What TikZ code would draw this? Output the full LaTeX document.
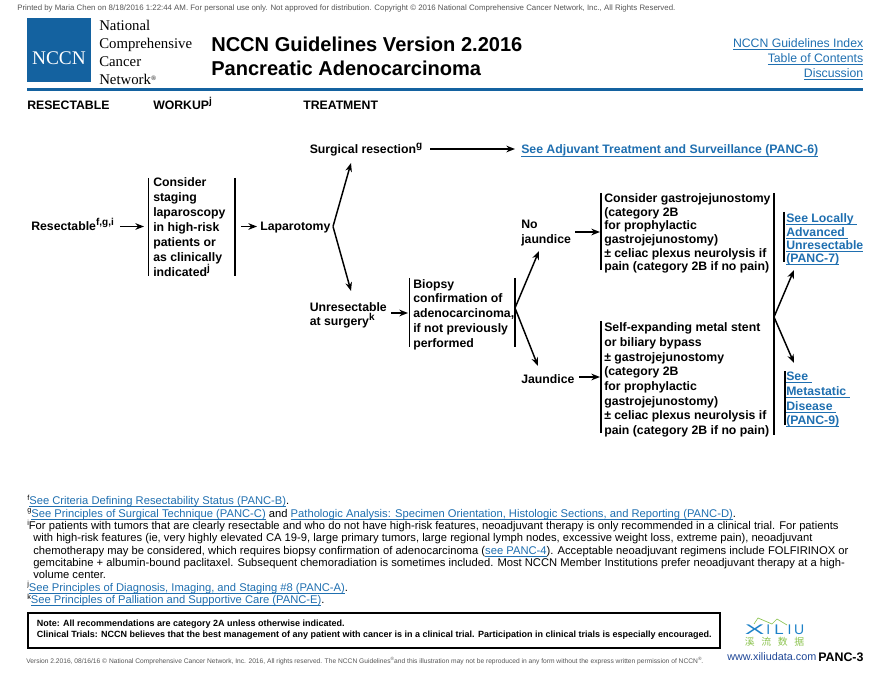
\documentclass[tikz,border=0pt]{standalone}
\usepackage{fontspec}
\setmainfont{Liberation Sans}
\newfontfamily\serifname{Liberation Serif}
\newfontfamily\cjkname{Noto Sans CJK SC}
\usetikzlibrary{arrows.meta}
\definecolor{nccnblue}{RGB}{20,98,160}
\definecolor{linkblue}{RGB}{31,111,176}
\definecolor{greytext}{RGB}{85,85,85}
\definecolor{xiliugreen}{RGB}{140,195,80}
\definecolor{xiliublue}{RGB}{30,130,200}
\definecolor{webblue}{RGB}{30,70,150}
\setlength{\lineskiplimit}{-10pt}
\newcommand{\linktxt}[1]{\textcolor{linkblue}{\underline{\smash{#1}}}}
\newcommand{\supmark}[1]{\raisebox{0.42em}{\fontsize{7.5}{8}\selectfont #1}}
\newcommand{\fnmark}[1]{\raisebox{0.38em}{\fontsize{5.5}{6}\selectfont #1}}
\tikzset{
  bodytext/.style={inner sep=0pt,anchor=base west,font=\bfseries\fontsize{9.2}{11}\selectfont},
  blocktext/.style={inner sep=0pt,anchor=north west,align=left},
  fnote/.style={inner sep=0pt,anchor=north west,align=left,font=\fontsize{8.4}{9.25}\selectfont},
  vbar/.style={black,line width=1.1pt},
  flow/.style={black,line width=1.1pt,-{Stealth[length=6.5pt,width=5pt]}},
}
\begin{document}
\begin{tikzpicture}[x=0.75pt,y=-0.75pt]
  \useasboundingbox (0,0) rectangle (890,688);
  \node[inner sep=0pt,anchor=base west,text=greytext,font=\fontsize{5.9}{7}\selectfont] (printed) at (17,11) {Printed by Maria Chen on 8/18/2016 1:22:44 AM. For personal use only. Not approved for distribution. Copyright © 2016 National Comprehensive Cancer Network, Inc., All Rights Reserved.};
  % header
  \node[fill=nccnblue,minimum size=48pt,inner sep=0pt,anchor=north west] (logo) at (27,18) {};
  \node[inner sep=0pt,anchor=base,text=white,font=\serifname\fontsize{14.5}{15}\selectfont] (logotext) at (59,65) {NCCN};
  \node[blocktext,font=\serifname\fontsize{11.1}{13.5}\selectfont] (nccnname) at (99,20) {National\\Comprehensive\\Cancer\\Network\raisebox{3pt}{\fontsize{5}{5}\selectfont®}};
  \node[blocktext,font=\bfseries\fontsize{15.05}{18}\selectfont] (title) at (211,37) {NCCN Guidelines Version 2.2016\\Pancreatic Adenocarcinoma};
  \node[inner sep=0pt,anchor=north east,align=right,font=\fontsize{9.2}{11.25}\selectfont] (toplinks) at (863.5,47.5) {\linktxt{NCCN Guidelines Index}\\\linktxt{Table of Contents}\\\linktxt{Discussion}};
  \coordinate (ruleL) at (27,89.5);
  \coordinate (ruleR) at (863,89.5);
  \draw[nccnblue,line width=2.2pt] (ruleL) -- (ruleR);
  \node[bodytext] (headA) at (27,110) {RESECTABLE};
  \node[bodytext] (headB) at (153,110) {WORKUP\supmark{j}};
  \node[bodytext] (headC) at (303,110) {TREATMENT};
  % left part
  \node[bodytext] (resect) at (31,231) {Resectable\supmark{f,g,i}};
  \node[blocktext,font=\bfseries\fontsize{9.2}{11.25}\selectfont] (staging) at (153,177.5) {Consider\\staging\\laparoscopy\\in high-risk\\patients or\\as clinically\\indicated\supmark{j}};
  \coordinate (stagingTL) at (148.5,178);
  \coordinate (stagingBL) at (148.5,276);
  \coordinate (stagingTR) at (235,178);
  \coordinate (stagingBR) at (235,276);
  \draw[vbar] (stagingTL) -- (stagingBL);
  \draw[vbar] (stagingTR) -- (stagingBR);
  \coordinate (outResect) at (120,226.5);
  \coordinate (toStaging) at (144,226.5);
  \coordinate (fromStaging) at (241,226.5);
  \coordinate (toLapar) at (257,226.5);
  \node[bodytext] (lapar) at (260,231) {Laparotomy};
  \coordinate (lapFork) at (333,226.5);
  \coordinate (lapUp) at (351,163);
  \coordinate (lapDown) at (351,291);
  \draw[flow] (outResect) -- (toStaging);
  \draw[flow] (fromStaging) -- (toLapar);
  \draw[flow] (lapFork) -- (lapUp);
  \draw[flow] (lapFork) -- (lapDown);
  % treatment
  \node[bodytext] (surg) at (309.5,154) {Surgical resection\supmark{g}};
  \node[bodytext] (adjuv) at (521,154) {\linktxt{See Adjuvant Treatment and Surveillance (PANC-6)}};
  \coordinate (outSurg) at (430,149);
  \coordinate (toAdjuv) at (515,149);
  \draw[flow] (outSurg) -- (toAdjuv);
  \node[blocktext,font=\bfseries\fontsize{9.2}{10.5}\selectfont] (unres) at (309.5,302) {Unresectable\\at surgery\supmark{k}};
  \node[blocktext,font=\bfseries\fontsize{9.2}{11.05}\selectfont] (biopsy) at (413,279) {Biopsy\\confirmation of\\adenocarcinoma,\\if not previously\\performed};
  \coordinate (biopsyTL) at (409.5,278);
  \coordinate (biopsyBL) at (409.5,347);
  \coordinate (biopsyTR) at (515,278);
  \coordinate (biopsyBR) at (515,347);
  \draw[vbar] (biopsyTL) -- (biopsyBL);
  \draw[vbar] (biopsyTR) -- (biopsyBR);
  \coordinate (outUnres) at (391,313);
  \coordinate (toBiopsy) at (408,313);
  \draw[flow] (outUnres) -- (toBiopsy);
  \coordinate (biopFork) at (515,308);
  \coordinate (biopUp) at (539,251);
  \coordinate (biopDown) at (538,366);
  \draw[flow] (biopFork) -- (biopUp);
  \draw[flow] (biopFork) -- (biopDown);
  \node[blocktext,font=\bfseries\fontsize{9.2}{11.25}\selectfont] (nojaun) at (521,220) {No\\jaundice};
  \node[bodytext] (jaun) at (521,383) {Jaundice};
  % outcomes
  \node[blocktext,font=\bfseries\fontsize{9.2}{10.2}\selectfont] (gastro) at (604,193.5) {Consider gastrojejunostomy\\(category 2B\\for prophylactic\\gastrojejunostomy)\\± celiac plexus neurolysis if\\pain (category 2B if no pain)};
  \node[blocktext,font=\bfseries\fontsize{9.2}{11.03}\selectfont] (stent) at (604,322.5) {Self-expanding metal stent\\or biliary bypass\\± gastrojejunostomy\\(category 2B\\for prophylactic\\gastrojejunostomy)\\± celiac plexus neurolysis if\\pain (category 2B if no pain)};
  \coordinate (gastroT) at (601,193);
  \coordinate (gastroB) at (601,270);
  \coordinate (stentT) at (601,321);
  \coordinate (stentB) at (601,433);
  \coordinate (rightT) at (774,193);
  \coordinate (rightB) at (774,435);
  \draw[vbar] (gastroT) -- (gastroB);
  \draw[vbar] (stentT) -- (stentB);
  \draw[vbar] (rightT) -- (rightB);
  \coordinate (outNojaun) at (575,232);
  \coordinate (toGastro) at (600,232);
  \coordinate (outJaun) at (579,377);
  \coordinate (toStent) at (600,377);
  \draw[flow] (outNojaun) -- (toGastro);
  \draw[flow] (outJaun) -- (toStent);
  \coordinate (rightFork) at (774,317);
  \coordinate (forkUp) at (794,270);
  \coordinate (forkDown) at (794,363);
  \draw[flow] (rightFork) -- (forkUp);
  \draw[flow] (rightFork) -- (forkDown);
  \node[blocktext,font=\bfseries\fontsize{9.2}{10}\selectfont] (locally) at (786,222.5) {\linktxt{See Locally }\\\linktxt{Advanced }\\\linktxt{Unresectable}\\\linktxt{(PANC-7)}};
  \node[blocktext,font=\bfseries\fontsize{9.2}{11}\selectfont] (metast) at (786,380.5) {\linktxt{See }\\\linktxt{Metastatic }\\\linktxt{Disease }\\\linktxt{(PANC-9)}};
  \coordinate (locallyT) at (784,212);
  \coordinate (locallyB) at (784,262);
  \coordinate (metastT) at (785,371);
  \coordinate (metastB) at (785,425);
  \draw[vbar] (locallyT) -- (locallyB);
  \draw[vbar] (metastT) -- (metastB);
  % footnotes
  \node[fnote] (notes) at (27,495) {\fnmark{f}\linktxt{See Criteria Defining Resectability Status (PANC-B)}.\\
    \fnmark{g}\linktxt{See Principles of Surgical Technique (PANC-C)} and \linktxt{Pathologic Analysis: Specimen Orientation, Histologic Sections, and Reporting (PANC-D)}.\\
    \fnmark{i}For patients with tumors that are clearly resectable and who do not have high-risk features, neoadjuvant therapy is only recommended in a clinical trial. For patients\\
    \hspace*{4.5pt}with high-risk features (ie, very highly elevated CA 19-9, large primary tumors, large regional lymph nodes, excessive weight loss, extreme pain), neoadjuvant\\
    \hspace*{4.5pt}chemotherapy may be considered, which requires biopsy confirmation of adenocarcinoma (\linktxt{see PANC-4}). Acceptable neoadjuvant regimens include FOLFIRINOX or\\
    \hspace*{4.5pt}gemcitabine + albumin-bound paclitaxel. Subsequent chemoradiation is sometimes included. Most NCCN Member Institutions prefer neoadjuvant therapy at a high-\\
    \hspace*{4.5pt}volume center.\\
    \fnmark{j}\linktxt{See Principles of Diagnosis, Imaging, and Staging \#8 (PANC-A)}.\\
    \fnmark{k}\linktxt{See Principles of Palliation and Supportive Care (PANC-E)}.};
  % note box
  \node[draw=black,line width=1.5pt,minimum width=519pt,minimum height=26pt,inner sep=0pt,anchor=north west] (notebox) at (27,612) {};
  \node[blocktext,font=\bfseries\fontsize{6.75}{8.25}\selectfont] (notetext) at (36.5,619.5) {Note:  All recommendations are category 2A unless otherwise indicated.\\Clinical Trials: NCCN believes that the best management of any patient with cancer is in a clinical trial.  Participation in clinical trials is especially encouraged.};
  \node[inner sep=0pt,anchor=base west,text=greytext,font=\fontsize{5}{6}\selectfont] (version) at (26,663) {Version 2.2016, 08/16/16 © National Comprehensive Cancer Network, Inc. 2016, All rights reserved. The NCCN Guidelines\raisebox{2pt}{\fontsize{3.5}{4}\selectfont®}and this illustration may not be reproduced in any form without the express written permission of NCCN\raisebox{2pt}{\fontsize{3.5}{4}\selectfont®}.};
  % xiliu mark
  \node[inner sep=0pt,anchor=base,text=xiliublue,font=\fontsize{10.5}{12}\selectfont] (xiliu) at (774.5,634) {\scalebox{2.1}[1]{X}\kern1.5pt I\kern3pt \scalebox{1.2}[1]{L}\kern3pt I\kern2pt U};
  \node[inner sep=0pt,anchor=base,text=xiliugreen,font=\cjkname\fontsize{7.4}{9}\selectfont] (xiliucn) at (774.5,645.5) {溪\hspace{5pt}流\hspace{5pt}数\hspace{5pt}据};
  \coordinate (peakA) at (754,624);
  \coordinate (peakB) at (758,618);
  \coordinate (peakC) at (772,624);
  \coordinate (peakD) at (777,619);
  \coordinate (peakE) at (787,625);
  \draw[xiliugreen,line width=0.5pt] (peakA) -- (peakB) -- (peakC) -- (peakD) -- (peakE);
  \node[inner sep=0pt,anchor=base west,text=webblue,font=\fontsize{8.12}{10}\selectfont] (web) at (727,660.5) {www.xiliudata.com};
  \node[inner sep=0pt,anchor=base west,font=\bfseries\fontsize{9.3}{12}\selectfont] (pageno) at (818,661.5) {PANC-3};
\end{tikzpicture}
\end{document}
